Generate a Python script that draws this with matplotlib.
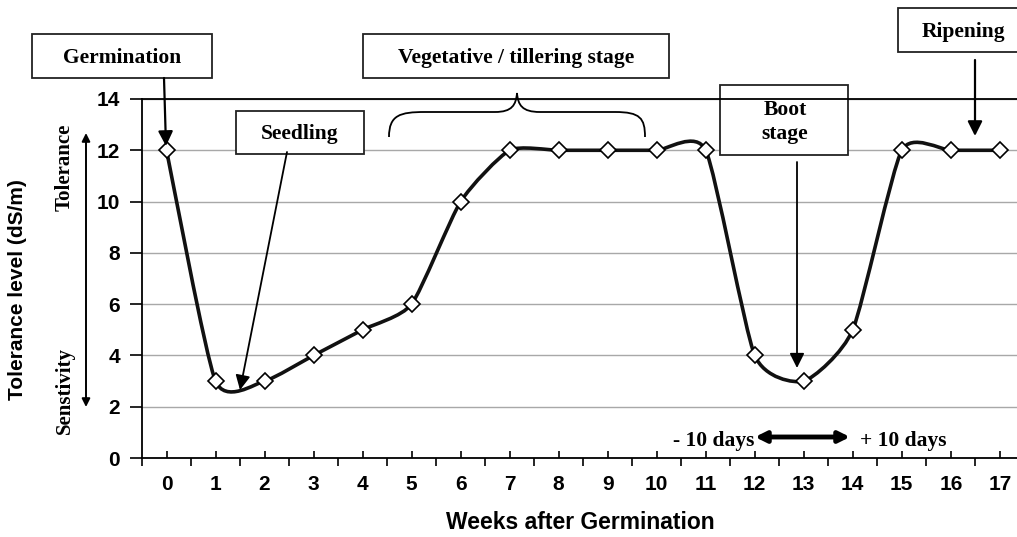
import matplotlib.pyplot as plt
import numpy as np
from matplotlib.path import Path
from matplotlib.patches import PathPatch, Rectangle

# Data
weeks = [0, 1, 2, 3, 4, 5, 6, 7, 8, 9, 10, 11, 12, 13, 14, 15, 16, 17]
tolerance = [12, 3, 3, 4, 5, 6, 10, 12, 12, 12, 12, 12, 4, 3, 5, 12, 12, 12]
week_labels = [str(w) for w in weeks]
y_ticks = [0, 2, 4, 6, 8, 10, 12, 14]

plt.rcParams['font.family'] = 'Liberation Sans'
plt.rcParams['font.weight'] = 'bold'
SERIF = 'Liberation Serif'

W, H = 1017, 537
fig = plt.figure(figsize=(W / 100, H / 100), dpi=100)
ax = fig.add_axes([142 / W, 1 - 458 / H, 875 / W, 359 / H])


def fp(px, py):
    # pixel position in the picture -> figure fraction
    return (px / W, 1 - py / H)


# smoothed line (bezier through the points, like Excel's smoothed line)
tension = 0.1
pts = np.column_stack([weeks, tolerance]).astype(float)
verts = [pts[0]]
codes = [Path.MOVETO]
for i in range(len(pts) - 1):
    p0 = pts[i - 1] if i > 0 else pts[i]
    p1 = pts[i]
    p2 = pts[i + 1]
    p3 = pts[i + 2] if i + 2 < len(pts) else pts[i + 1]
    verts += [p1 + (p2 - p0) * tension, p2 - (p3 - p1) * tension, p2]
    codes += [Path.CURVE4] * 3
ax.add_patch(PathPatch(Path(verts, codes), facecolor='none', edgecolor='#111111',
                       lw=2.6, zorder=2.6, clip_on=False))
ax.plot(weeks, tolerance, ls='none', marker='D', ms=8.5, mfc='white', mec='black',
        mew=1.2, zorder=3, clip_on=False)

# axes
ax.set_xlim(-0.5, 17.35)
ax.set_ylim(0, 14)
ax.set_yticks(y_ticks)
ax.set_xticks(weeks, week_labels)
ax.set_xticks(np.arange(-0.5, 17.5, 1), minor=True)
ax.tick_params(axis='x', which='major', direction='in', length=5, width=1.2,
               pad=12, labelsize=15)
ax.tick_params(axis='x', which='minor', direction='out', length=6, width=1.2)
ax.tick_params(axis='y', direction='out', length=9, width=1.2, pad=7, labelsize=15)
ax.grid(axis='y', color='#a8a8a8', lw=1)
ax.spines['right'].set_visible(False)
for s in ['left', 'bottom', 'top']:
    ax.spines[s].set_linewidth(1.3)

ax.set_ylabel('Tolerance level (dS/m)', fontsize=15, fontweight='bold')
ax.yaxis.set_label_coords(-0.131, 0.47)
ax.set_xlabel('Weeks after Germination', fontsize=16.5, fontweight='bold')
ax.xaxis.set_label_coords(0.5006, -0.181)
ax.xaxis.label.set_va('center')

# tolerance / sensitivity scale on the left
fig.text(*fp(65, 167), 'Tolerance', family=SERIF, fontsize=15, rotation=90,
         ha='center', va='center')
fig.text(*fp(65, 391), 'Senstivity', family=SERIF, fontsize=15, rotation=90,
         ha='center', va='center')
ax.annotate('', xy=fp(86, 133), xytext=fp(86, 407), xycoords='figure fraction',
            arrowprops=dict(arrowstyle='<|-|>', color='black', lw=1.4,
                            mutation_scale=12, shrinkA=0, shrinkB=0))

# stage boxes
boxes = [
    ('Germination', 32, 34, 212, 78, 122),
    ('Seedling', 236, 111, 364, 154, 300),
    ('Vegetative / tillering stage', 363, 34, 669, 78, 516),
    ('Boot\nstage', 720, 85, 848, 155, 785),
    ('Ripening', 898, 8, 1030, 52, 963),
]
for label, x0, y0, x1, y1, cx in boxes:
    ax.add_patch(Rectangle(fp(x0, y1), (x1 - x0) / W, (y1 - y0) / H,
                           transform=fig.transFigure, facecolor='white',
                           edgecolor='#222222', lw=1.3, zorder=2, clip_on=False))
    ax.text(*fp(cx, (y0 + y1) / 2 + 2), label, transform=fig.transFigure,
            family=SERIF, fontsize=15.5, ha='center', va='center', zorder=4,
            linespacing=1.3)

# arrows from the boxes
arrows = [
    ((164, 78), (166, 146), 1.6),
    ((287, 152), (240, 390), 1.3),
    ((797, 162), (797, 368), 1.3),
    ((975, 60), (975, 136), 1.6),
]
for start, end, lw in arrows:
    ax.annotate('', xy=fp(*end), xytext=fp(*start), xycoords='figure fraction',
                arrowprops=dict(arrowstyle='-|>', color='black', lw=lw,
                                mutation_scale=22, shrinkA=0, shrinkB=0),
                zorder=4)

# curly brace over the vegetative weeks
brace_px = [(389, 137), (389, 115), (400, 112), (425, 112), (495, 112),
            (512, 112), (516, 105), (517, 93), (518, 105), (522, 112),
            (540, 112), (615, 112), (640, 112), (645, 118), (645, 137)]
brace_codes = [Path.MOVETO, Path.CURVE4, Path.CURVE4, Path.CURVE4, Path.LINETO,
               Path.CURVE4, Path.CURVE4, Path.CURVE4, Path.CURVE4, Path.CURVE4,
               Path.CURVE4, Path.LINETO, Path.CURVE4, Path.CURVE4, Path.CURVE4]
ax.add_patch(PathPatch(Path([fp(x, y) for x, y in brace_px], brace_codes),
                       transform=fig.transFigure, facecolor='none',
                       edgecolor='black', lw=1.3, zorder=4, clip_on=False))

# +/- 10 days around the boot stage
ax.annotate('', xy=fp(755, 437), xytext=fp(850, 437), xycoords='figure fraction',
            arrowprops=dict(arrowstyle='<|-|>', color='black', lw=3.5,
                            mutation_scale=16, shrinkA=0, shrinkB=0))
fig.text(*fp(754, 441), '- 10 days', family=SERIF, fontsize=15.5,
         ha='right', va='center')
fig.text(*fp(860, 441), '+ 10 days', family=SERIF, fontsize=15.5,
         ha='left', va='center')

fig.savefig('out.png', dpi=100)
